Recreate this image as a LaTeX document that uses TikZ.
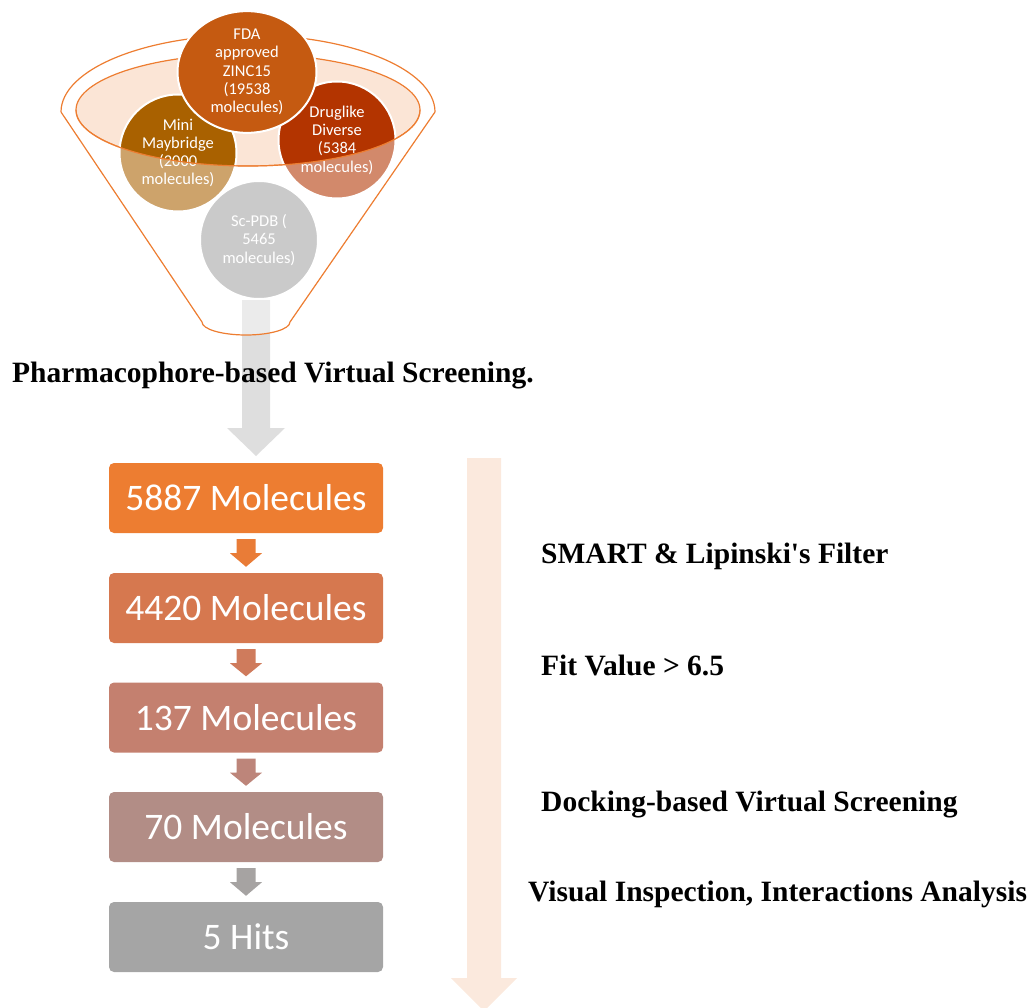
\documentclass[tikz,border=0pt]{standalone}
\usepackage{fontspec}
\setmainfont{Liberation Serif}
\newfontfamily\calibfont{Carlito}
\usetikzlibrary{calc,shapes.geometric}
\definecolor{funnelline}{HTML}{ED7D31}
\definecolor{rimfill}{HTML}{FBE5D6}
\definecolor{fdafill}{HTML}{C55A11}
\definecolor{minifill}{HTML}{A96100}
\definecolor{drugfill}{HTML}{B33400}
\definecolor{pdbfill}{HTML}{A5A5A5}
\definecolor{grayarrow}{HTML}{DEDEDE}
\definecolor{peacharrow}{HTML}{FBE9DD}
\definecolor{boxa}{HTML}{ED7D31}
\definecolor{boxb}{HTML}{D6784F}
\definecolor{boxc}{HTML}{C4806F}
\definecolor{boxd}{HTML}{B28D86}
\definecolor{boxe}{HTML}{A5A5A5}
\definecolor{arrowa}{HTML}{E97C37}
\definecolor{arrowb}{HTML}{CF7B5C}
\definecolor{arrowc}{HTML}{BD857A}
\definecolor{arrowd}{HTML}{A6A3A2}
\newcommand{\flowarrow}[3]{\fill[#1] ($(#2.south)+(-9.5,6)$)--($(#2.south)+(9.5,6)$)--($(#2.south)+(9.5,20)$)--($(#2.south)+(16,20)$)--($(#3.north)+(0,-6)$)--($(#2.south)+(-16,20)$)--($(#2.south)+(-9.5,20)$)--cycle;}

\begin{document}
\begin{tikzpicture}[x=1pt,y=-1pt,
  srcnode/.style={circle,draw=white,line width=2pt,text=white,inner sep=0pt,align=center,font=\calibfont\fontsize{16.5}{18.3}\selectfont},
  stepbox/.style={rounded corners=5pt,minimum width=274pt,minimum height=70pt,text=white,inner sep=0pt,font=\calibfont\fontsize{37.5}{45}\selectfont},
  steplabel/.style={anchor=base west,inner sep=0pt,font=\bfseries\fontsize{29.5}{35}\selectfont}]
\useasboundingbox (0,0) rectangle (1035,1008);
\draw[funnelline,line width=1.2pt] (61,112) arc[start angle=180,end angle=360,x radius=187,y radius=77];
\filldraw[fill=rimfill,draw=funnelline,line width=1.2pt] (248,110) ellipse[x radius=172,y radius=56];
\fill[grayarrow] (242,300)--(270,300)--(270,428)--(285,428)--(256,456)--(227,428)--(242,428)--cycle;
\node[srcnode,fill=minifill,minimum size=117pt] (mini) at (178,153) {Mini\\Maybridge\\(2000\\molecules)};
\node[srcnode,fill=drugfill,minimum size=117pt] (drug) at (337,140) {Druglike\\Diverse\\(5384\\molecules)};
\node[srcnode,fill=pdbfill,minimum size=118pt] (pdb) at (259,240) {Sc-PDB (\\5465\\molecules)};
\node[srcnode,ellipse,fill=fdafill,minimum width=139pt,minimum height=119pt] (fda) at (247,72) {FDA\\approved\\ZINC15\\(19538\\molecules)};
\fill[white,fill opacity=0.42] (61,112)--(202,322) arc[start angle=180,end angle=0,x radius=44,y radius=13]--(435,112)--(420,110) arc[start angle=0,end angle=180,x radius=172,y radius=56]--cycle;
\draw[funnelline,line width=1.2pt] (435,112)--(290,322) arc[start angle=0,end angle=180,x radius=44,y radius=13]--(61,112);
\draw[funnelline,line width=1.2pt] (420,110) arc[start angle=0,end angle=180,x radius=172,y radius=56];
\fill[peacharrow] (467,458)--(501,458)--(501,978)--(517,978)--(484,1011)--(451,978)--(467,978)--cycle;
\node[stepbox,fill=boxa] (m1) at (246,498) {5887 Molecules};
\node[stepbox,fill=boxb] (m2) at (246,608) {4420 Molecules};
\node[stepbox,fill=boxc] (m3) at (246,717.5) {137 Molecules};
\node[stepbox,fill=boxd] (m4) at (246,827) {70 Molecules};
\node[stepbox,fill=boxe] (m5) at (246,937) {5 Hits};
\flowarrow{arrowa}{m1}{m2}
\flowarrow{arrowb}{m2}{m3}
\flowarrow{arrowc}{m3}{m4}
\flowarrow{arrowd}{m4}{m5}
\node[steplabel] (screen) at (12,382) {Pharmacophore-based Virtual Screening.};
\node[steplabel] (smart) at (541,563) {SMART \& Lipinski\textquotesingle s Filter};
\node[steplabel] (fit) at (541,675) {Fit Value > 6.5};
\node[steplabel] (dock) at (541,811) {Docking-based Virtual Screening};
\node[steplabel] (visual) at (528,901) {Visual Inspection, Interactions Analysis};
\end{tikzpicture}
\end{document}
